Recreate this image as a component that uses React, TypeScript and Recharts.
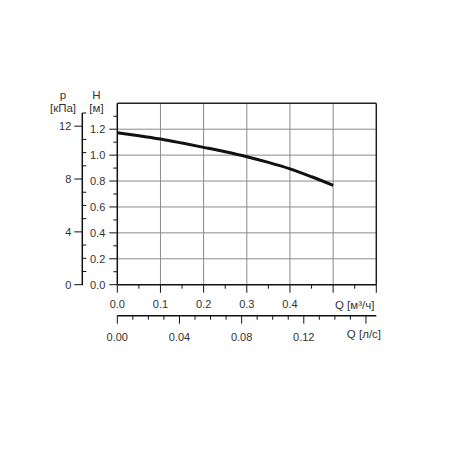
import React from "react";
import {
  LineChart,
  Line,
  XAxis,
  YAxis,
  CartesianGrid,
  ReferenceLine,
  Customized,
} from "recharts";

// Flow in m³/h and head in m
const Q_VALUES = [0, 0.05, 0.1, 0.15, 0.2, 0.25, 0.3, 0.35, 0.4, 0.45, 0.5];
const H_VALUES = [1.173, 1.15, 1.124, 1.093, 1.06, 1.026, 0.988, 0.944, 0.894, 0.833, 0.767];

const H_TICKS = [0, 0.1, 0.2, 0.3, 0.4, 0.5, 0.6, 0.7, 0.8, 0.9, 1.0, 1.1, 1.2, 1.3];
const H_LABELS = [0, 0.2, 0.4, 0.6, 0.8, 1.0, 1.2];
const H_GRID = [0.2, 0.4, 0.6, 0.8, 1.0, 1.2];
const P_TICKS = [0, 1, 2, 3, 4, 5, 6, 7, 8, 9, 10, 11, 12, 13];
const P_MAJOR = [0, 4, 8, 12];
const Q_TICKS = [0, 0.05, 0.1, 0.15, 0.2, 0.25, 0.3, 0.35, 0.4, 0.45, 0.5, 0.55, 0.6];
const Q_LABELS = [0, 0.1, 0.2, 0.3, 0.4];
const Q_GRID = [0.1, 0.2, 0.3, 0.4, 0.5];
const LS_TICKS = [0, 0.01, 0.02, 0.03, 0.04, 0.05, 0.06, 0.07, 0.08, 0.09, 0.1, 0.11, 0.12, 0.13, 0.14, 0.15, 0.16];
const LS_LABELS = [0, 0.04, 0.08, 0.12];

const H_MAX = 1.4;
const Q_MAX = 0.6;
const KPA_PER_M = 9.81;
const P_MAX = H_MAX * KPA_PER_M;
const M3H_PER_LS = 3.6;
const LS_MAX = Q_MAX / M3H_PER_LS;

const data = Q_VALUES.map((q, i) => ({
  q,
  h: H_VALUES[i],
  ls: q / M3H_PER_LS,
  p: H_VALUES[i] * KPA_PER_M,
}));

const FONT = "'Liberation Sans', Arial, sans-serif";
const TXT = "#333";
const AX = "#111";

const MARGIN = { top: 103.3, right: 73.7, left: 20, bottom: 104.3 };
const PLOT_H = 450 - MARGIN.top - MARGIN.bottom - 31 - 30;

const near = (a: number, list: number[]) => list.some((v) => Math.abs(v - a) < 1e-6);
const isTenth = (v: number) => Math.abs(v * 10 - Math.round(v * 10)) < 1e-6;

const HTick = (props: any) => {
  const { x, y, payload } = props;
  const v = payload.value as number;
  const major = near(v, H_LABELS);
  return (
    <g>
      <line x1={x - (major ? 8 : 4)} x2={x} y1={y} y2={y} stroke={AX} strokeWidth={1} />
      {major && (
        <text x={x - 12} y={y} textAnchor="end" dominantBaseline="central" fontSize={11} fontFamily={FONT} fill={TXT}>
          {v.toFixed(1)}
        </text>
      )}
    </g>
  );
};

const PTick = (props: any) => {
  const { x, y, payload } = props;
  const v = payload.value as number;
  const major = near(v, P_MAJOR);
  const step = PLOT_H / P_MAX;
  return (
    <g>
      {v < 13 && <line x1={x} x2={x} y1={y + 0.5} y2={y - step} stroke={AX} strokeWidth={1.5} />}
      {major ? (
        <line x1={x - 8} x2={x} y1={y} y2={y} stroke={AX} strokeWidth={1} />
      ) : (
        <line x1={x} x2={x + 4} y1={y} y2={y} stroke={AX} strokeWidth={1} />
      )}
      {major && (
        <text x={x - 11} y={y} textAnchor="end" dominantBaseline="central" fontSize={11} fontFamily={FONT} fill={TXT}>
          {String(v)}
        </text>
      )}
    </g>
  );
};

const QTick = (props: any) => {
  const { x, y, payload } = props;
  const v = payload.value as number;
  const major = isTenth(v);
  return (
    <g>
      <line x1={x} x2={x} y1={y} y2={y + (major ? 8 : 4)} stroke={AX} strokeWidth={1} />
      {near(v, Q_LABELS) && (
        <text x={x} y={y + 19} textAnchor="middle" dominantBaseline="central" fontSize={11} fontFamily={FONT} fill={TXT}>
          {v.toFixed(1)}
        </text>
      )}
      {Math.abs(v - 0.55) < 1e-6 && (
        <text x={x} y={y + 20} textAnchor="middle" dominantBaseline="central" fontSize={11.5} fontFamily={FONT} fill={TXT}>
          Q [м³/ч]
        </text>
      )}
    </g>
  );
};

const LsTick = (props: any) => {
  const { x, y, payload } = props;
  const v = payload.value as number;
  const major = Math.abs(v * 25 - Math.round(v * 25)) < 1e-6;
  return (
    <g>
      <line x1={x} x2={x} y1={y} y2={y + (major ? 8 : 4)} stroke={AX} strokeWidth={1} />
      {near(v, LS_LABELS) && (
        <text x={x} y={y + 21} textAnchor="middle" dominantBaseline="central" fontSize={11} fontFamily={FONT} fill={TXT}>
          {v.toFixed(2)}
        </text>
      )}
      {Math.abs(v - 0.16) < 1e-6 && (
        <text x={x - 2} y={y + 18} textAnchor="middle" dominantBaseline="central" fontSize={11.5} fontFamily={FONT} fill={TXT}>
          Q [л/с]
        </text>
      )}
    </g>
  );
};

const Headers = () => (
  <g fontSize={11.5} fontFamily={FONT} fill={TXT}>
    <text x={63} y={94.5} textAnchor="middle" dominantBaseline="central">p</text>
    <text x={63} y={108} textAnchor="middle" dominantBaseline="central">[кПа]</text>
    <text x={96.5} y={94.5} textAnchor="middle" dominantBaseline="central">H</text>
    <text x={96.5} y={108} textAnchor="middle" dominantBaseline="central">[м]</text>
  </g>
);

export default function App() {
  return (
    <div style={{ position: "absolute", left: 0, top: 0, width: 450, height: 450, background: "#fff" }}>
      <LineChart width={450} height={450} data={data} margin={MARGIN}>
        <CartesianGrid
          xAxisId="x1_q"
          yAxisId="y1_h"
          horizontalValues={H_GRID}
          verticalValues={Q_GRID}
          stroke="#8a8a8a"
          strokeWidth={1}
        />
        <XAxis
          xAxisId="x1_q"
          dataKey="q"
          type="number"
          domain={[0, Q_MAX]}
          allowDataOverflow
          ticks={Q_TICKS}
          interval={0}
          height={31}
          tickLine={false}
          tickSize={0}
          tickMargin={0}
          axisLine={{ stroke: AX, strokeWidth: 1.5 }}
          tick={<QTick />}
        />
        <XAxis
          xAxisId="x2_ls"
          dataKey="ls"
          type="number"
          domain={[0, LS_MAX]}
          allowDataOverflow
          ticks={LS_TICKS}
          interval={0}
          height={30}
          tickLine={false}
          tickSize={0}
          tickMargin={0}
          axisLine={{ stroke: AX, strokeWidth: 1.5 }}
          tick={<LsTick />}
        />
        <YAxis
          yAxisId="y1_h"
          type="number"
          domain={[0, H_MAX]}
          allowDataOverflow
          ticks={H_TICKS}
          interval={0}
          width={35}
          tickLine={false}
          tickSize={0}
          tickMargin={0}
          axisLine={{ stroke: AX, strokeWidth: 1.5 }}
          tick={<HTick />}
        />
        <YAxis
          yAxisId="y2_p"
          dataKey="p"
          type="number"
          domain={[0, P_MAX]}
          allowDataOverflow
          ticks={P_TICKS}
          interval={0}
          width={62.3}
          tickLine={false}
          tickSize={0}
          tickMargin={0}
          axisLine={false}
          tick={<PTick />}
        />
        <ReferenceLine xAxisId="x1_q" yAxisId="y1_h" y={H_MAX} stroke="#222" strokeWidth={1.5} />
        <ReferenceLine xAxisId="x1_q" yAxisId="y1_h" x={Q_MAX} stroke="#222" strokeWidth={1.5} />
        <Line
          xAxisId="x1_q"
          yAxisId="y1_h"
          dataKey="h"
          type="monotone"
          stroke="#111"
          strokeWidth={3}
          dot={false}
          isAnimationActive={false}
        />
        <Customized component={Headers} />
      </LineChart>
    </div>
  );
}
